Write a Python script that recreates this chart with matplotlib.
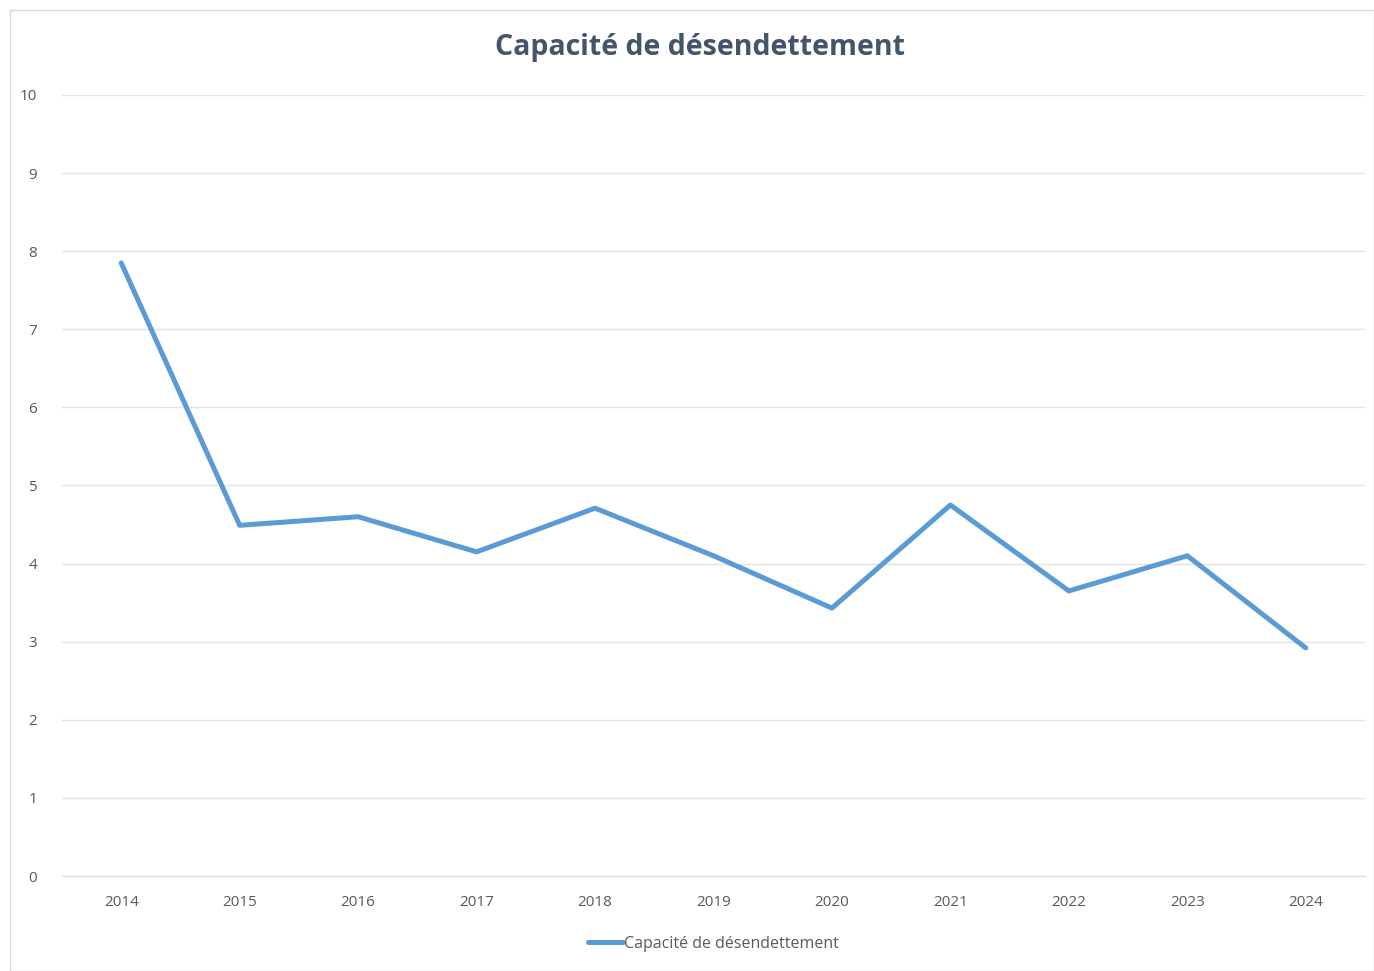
import matplotlib
matplotlib.use('Agg')
import matplotlib.pyplot as plt
from matplotlib.patches import Rectangle

plt.rcParams['font.family'] = ['Open Sans', 'DejaVu Sans']

years = ['2014', '2015', '2016', '2017', '2018', '2019', '2020', '2021', '2022', '2023', '2024']
capacite = [7.85, 4.49, 4.60, 4.15, 4.71, 4.10, 3.43, 4.75, 3.65, 4.10, 2.92]

W, H = 1374, 971
fig = plt.figure(figsize=(W / 100, H / 100), dpi=100)

# light frame around the chart area, like an Excel chart object
fig.patches.append(Rectangle((10 / W, 0), 1 - 10 / W, 1 - 10 / H, transform=fig.transFigure,
                             fill=False, edgecolor='#d9d9d9', linewidth=1))

ax = fig.add_axes([62 / W, 1 - 876 / H, (1365 - 62) / W, (876 - 95) / H])
x = range(len(years))
ax.plot(x, capacite, color='#5b9bd5', linewidth=3.6, solid_joinstyle='round',
        solid_capstyle='round', label='Capacité de désendettement')

ax.set_xlim(-0.5, len(years) - 0.5)
ax.set_ylim(0, 10)
ax.set_yticks(range(0, 11))
ax.set_xticks(list(x))
ax.set_xticklabels(years)
ax.grid(axis='y', color='#e3e3e3', linewidth=1)
ax.set_axisbelow(True)
for s in ['top', 'right', 'left']:
    ax.spines[s].set_visible(False)
ax.spines['bottom'].set_color('#d9d9d9')
ax.tick_params(length=0, labelsize=11, colors='#595959')
ax.tick_params(axis='y', pad=18)
ax.tick_params(axis='x', pad=14)

fig.text(700 / W, 1 - 47 / H, 'Capacité de désendettement', ha='center', va='center',
         fontsize=20.5, fontweight='bold', color='#44546a')

ax.legend(loc='center', bbox_to_anchor=(0.5, (876 - 944) / (876 - 95)), frameon=False,
          fontsize=11.5, labelcolor='#595959', handlelength=2.2, handletextpad=0.1)

fig.savefig('out.png', dpi=100)
